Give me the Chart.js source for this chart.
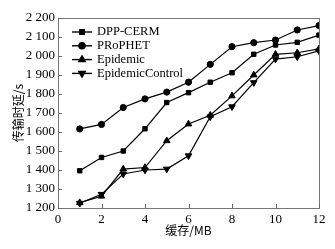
<!DOCTYPE html>
<html>
<head>
<meta charset="utf-8">
<script src="https://cdn.jsdelivr.net/npm/chart.js@4/dist/chart.umd.min.js"></script>
<style>
  html, body { margin: 0; padding: 0; background: #fff; }
  #wrap { width: 335px; height: 249px; }
</style>
</head>
<body>
<div id="wrap"><canvas id="myChart"></canvas></div>
<script>
var bufferMB = [1, 2, 3, 4, 5, 6, 7, 8, 9, 10, 11, 12];
var dppCerm = [1396, 1466, 1500, 1617, 1755, 1807, 1862, 1912, 2009, 2058, 2072, 2110];
var prophet = [1616, 1640, 1729, 1774, 1810, 1862, 1956, 2049, 2070, 2084, 2137, 2160];
var epidemic = [1228, 1262, 1405, 1413, 1554, 1642, 1688, 1790, 1900, 2009, 2017, 2038];
var epidemicControl = [1225, 1272, 1379, 1400, 1405, 1475, 1680, 1733, 1860, 1984, 1996, 2027];
var yTicks = [1200, 1300, 1400, 1500, 1600, 1700, 1800, 1900, 2000, 2100, 2200];
var xTicks = [0, 2, 4, 6, 8, 10, 12];

var serif = '"Liberation Serif", "Times New Roman", serif';
var cjk = '"Noto Sans CJK SC", sans-serif';

function pts(ys) {
    return bufferMB.map(function (x, i) { return { x: x, y: ys[i] }; });
}

function series(label, ys, style, rot, r) {
    return {
        label: label,
        data: pts(ys),
        borderColor: '#000',
        backgroundColor: '#000',
        borderWidth: 1.2,
        pointStyle: style,
        pointRotation: rot,
        pointRadius: r,
        pointBorderWidth: 1,
        tension: 0
    };
}

// inward tick marks + line-and-marker legend drawn inside the plot
var extras = {
    id: 'extras',
    afterDraw: function (chart) {
        var c = chart.ctx, a = chart.chartArea;
        var xs = chart.scales.x, ys = chart.scales.y;
        c.save();
        c.strokeStyle = '#666';
        c.lineWidth = 1;
        c.beginPath();
        xTicks.forEach(function (v) {
            var px = Math.round(xs.getPixelForValue(v)) + 0.5;
            c.moveTo(px, a.bottom); c.lineTo(px, a.bottom - 4);
        });
        yTicks.forEach(function (v) {
            var py = Math.round(ys.getPixelForValue(v)) + 0.5;
            c.moveTo(a.left, py); c.lineTo(a.left + 4, py);
        });
        c.stroke();

        c.font = '12.5px ' + serif;
        c.textBaseline = 'middle';
        c.fillStyle = '#000';
        chart.data.datasets.forEach(function (ds, i) {
            var y = a.top + 14 + i * 13.8;
            c.strokeStyle = '#000';
            c.lineWidth = 1.4;
            c.beginPath();
            c.moveTo(a.left + 14, y); c.lineTo(a.left + 34, y);
            c.stroke();
            Chart.helpers.drawPoint(c, {
                pointStyle: ds.pointStyle, rotation: ds.pointRotation,
                radius: ds.pointRadius, borderWidth: 1
            }, a.left + 24, y);
            c.fill();
            c.fillText(ds.label, a.left + 39, y);
        });
        c.restore();
    }
};

new Chart(document.getElementById('myChart'), {
    type: 'line',
    data: {
        datasets: [
            series('DPP-CERM', dppCerm, 'rect', 0, 3.1),
            series('PRoPHET', prophet, 'circle', 0, 3.1),
            series('Epidemic', epidemic, 'triangle', 0, 3.8),
            series('EpidemicControl', epidemicControl, 'triangle', 180, 3.8)
        ]
    },
    options: {
        responsive: true,
        maintainAspectRatio: false,
        animation: false,
        layout: { padding: { left: 11, right: 16, top: 18, bottom: 11 } },
        scales: {
            x: {
                type: 'linear',
                min: 0,
                max: 12,
                afterBuildTicks: function (s) { s.ticks = xTicks.map(function (v) { return { value: v }; }); },
                afterFit: function (s) { s.height = 30; },
                grid: { display: false, drawTicks: false },
                border: { display: true, color: '#777', width: 1 },
                ticks: { color: '#000', padding: 4, font: { family: serif, size: 13 } },
                title: {
                    display: true, text: '缓存/MB', color: '#000', padding: { top: 0, bottom: 0 },
                    font: { family: cjk, size: 12 }
                }
            },
            y: {
                min: 1200,
                max: 2200,
                afterBuildTicks: function (s) { s.ticks = yTicks.map(function (v) { return { value: v }; }); },
                afterFit: function (s) { s.width = 47; },
                grid: { display: false, drawTicks: false },
                border: { display: true, color: '#777', width: 1 },
                ticks: {
                    color: '#000', padding: 3, font: { family: serif, size: 13 },
                    callback: function (v) { return String(v).replace(/\B(?=(\d{3})+(?!\d))/g, ' '); }
                },
                title: {
                    display: true, text: '传输时延/s', color: '#000', padding: { top: 0, bottom: 0 },
                    font: { family: cjk, size: 12 }
                }
            },
            x2: {
                type: 'linear', position: 'top', min: 0, max: 12,
                grid: { display: false, drawTicks: false },
                border: { display: true, color: '#777', width: 1 },
                ticks: { display: false },
                afterFit: function (s) { s.height = 0; }
            },
            y2: {
                position: 'right', min: 1200, max: 2200,
                grid: { display: false, drawTicks: false },
                border: { display: true, color: '#777', width: 1 },
                ticks: { display: false },
                afterFit: function (s) { s.width = 0; }
            }
        },
        plugins: {
            legend: { display: false },
            tooltip: { enabled: false }
        }
    },
    plugins: [extras]
});
</script>
</body>
</html>
